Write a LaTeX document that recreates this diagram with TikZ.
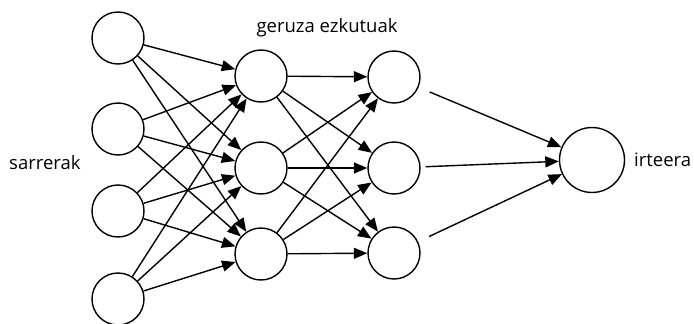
\documentclass[tikz,border=0pt]{standalone}
\usepackage{fontspec}
\setmainfont{Open Sans}
\usetikzlibrary{arrows.meta}
\begin{document}
\begin{tikzpicture}[x=1pt,y=-1pt,
  neuron/.style={draw,circle,line width=1.4pt,minimum size=52pt,inner sep=0pt},
  outneuron/.style={draw,circle,line width=1.4pt,minimum size=65pt,inner sep=0pt},
  conn/.style={line width=1.4pt,-{Triangle[length=13.5pt,width=11pt]}},
  lbl/.style={font=\fontsize{18.5}{22}\selectfont,inner sep=0pt}]
\useasboundingbox (0,0) rectangle (694,324);
\node[neuron] (i1) at (118,38) {};
\node[neuron] (i2) at (118,129) {};
\node[neuron] (i3) at (118,211) {};
\node[neuron] (i4) at (118,299) {};
\node[neuron] (a1) at (261,76) {};
\node[neuron] (a2) at (261,168) {};
\node[neuron] (a3) at (261,254) {};
\node[neuron] (b1) at (394,77) {};
\node[neuron] (b2) at (394,168) {};
\node[neuron] (b3) at (394,253) {};
\node[outneuron] (o) at (592,160) {};
\node[lbl,anchor=west] (ls) at (9,163) {sarrerak};
\node[lbl] (lg) at (327,28) {geruza ezkutuak};
\node[lbl,anchor=west] (lo) at (634,160) {irteera};
\foreach \i in {1,...,4}{\foreach \a in {1,2,3}{\draw[conn] (i\i) -- (a\a);}}
\foreach \a in {1,2,3}{\foreach \b in {1,2,3}{\draw[conn] (a\a) -- (b\b);}}
\draw[conn,shorten <=12pt] (b1) -- (o);
\draw[conn,shorten <=5pt] (b2) -- (o);
\draw[conn,shorten <=12pt] (b3) -- (o);
\end{tikzpicture}
\end{document}
